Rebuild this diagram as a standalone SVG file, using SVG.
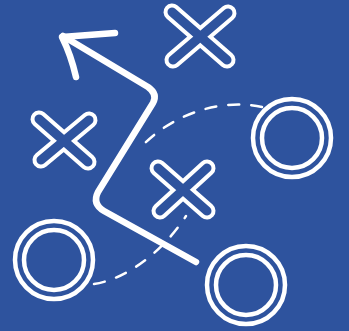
<svg xmlns="http://www.w3.org/2000/svg" width="349" height="331" viewBox="0 0 349 331">
<style>
.xo{fill:none;stroke:#fff;stroke-width:17;stroke-linecap:round}
.xi{fill:none;stroke:#2E539E;stroke-width:9;stroke-linecap:round}
.c{fill:none;stroke:#fff;stroke-width:4.5}
.d{fill:none;stroke:#fff;stroke-width:2.5;stroke-dasharray:11 12;stroke-linecap:round}
.p{fill:none;stroke:#fff;stroke-width:6.5;stroke-linecap:round;stroke-linejoin:round}
</style>
<rect width="349" height="331" fill="#2E539E"/>
<g id="connectors">
<path class="d" d="M262,107 C225,99 175,110 138,150"/>
<path class="d" d="M94,284 C122,280 160,256 186,216"/>
<path class="p" d="M63,36 L148,87 Q158,94 153,103 L98,192 Q92,204 104,211 L196,262"/>
<path class="p" d="M115,33 Q88,35 62,37 Q71,55 76,77"/>
</g>
<g id="x-top">
<path class="xo" d="M172,12 L227,60 M228,13 L173,60"/>
<path class="xi" d="M172,12 L227,60 M228,13 L173,60"/>
</g>
<g id="x-left">
<path class="xo" d="M39,119 L88,162 M89,120 L41,160"/>
<path class="xi" d="M39,119 L88,162 M89,120 L41,160"/>
</g>
<g id="x-mid">
<path class="xo" d="M158,168 L207,211 M207,168 L160,211"/>
<path class="xi" d="M158,168 L207,211 M207,168 L160,211"/>
</g>
<g id="o-right">
<circle class="c" cx="292" cy="138" r="39"/>
<circle class="c" cx="292" cy="138" r="30"/>
</g>
<g id="o-left">
<circle class="c" cx="54" cy="260" r="39"/>
<circle class="c" cx="54" cy="260" r="30"/>
</g>
<g id="o-bottom">
<circle class="c" cx="246" cy="285" r="39"/>
<circle class="c" cx="246" cy="285" r="30"/>
</g>
</svg>
